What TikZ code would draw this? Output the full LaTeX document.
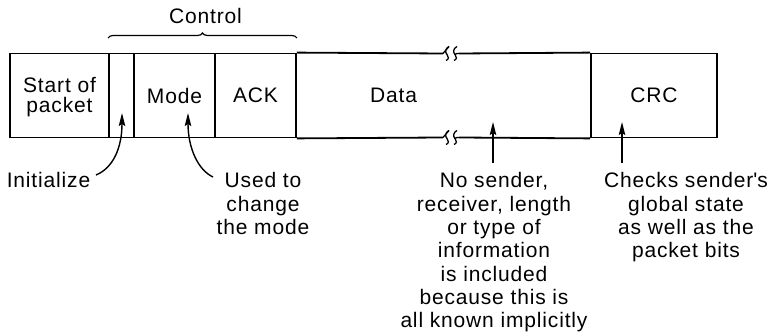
\documentclass[tikz,border=0pt]{standalone}
\usepackage{fontspec}
\setmainfont{Liberation Sans}[LetterSpace=4]
\usetikzlibrary{decorations.pathreplacing,arrows.meta}
\begin{document}
\begin{tikzpicture}[x=1pt,y=-1pt,
  txt/.style={font=\fontsize{21}{23.3}\selectfont},
  field/.style={draw, line width=1.8pt, minimum height=84pt, inner sep=0pt, align=center, txt, font=\fontsize{21}{20.5}\selectfont},
  note/.style={txt, align=center, inner sep=0pt, anchor=base},
  frame/.style={line width=1.8pt},
  arr/.style={line width=1.4pt, -{Stealth[length=13pt,width=6.5pt,inset=2pt]}},
  brk/.style={line width=1.3pt}]
\useasboundingbox (0,0) rectangle (772,336);

% fields
\node[field, minimum width=99pt] (sop) at (59.5,95.5) {};
\node[field, minimum width=25pt] (ini) at (121.5,95.5) {};
\node[field, minimum width=81pt] (mode) at (174.5,95.5) {Mode};
\node[field, minimum width=81pt] (ack) at (255.5,95.5) {ACK};
\node[minimum width=295pt, minimum height=84pt, inner sep=0pt] (data) at (443.5,95.5) {};
\node[field, minimum width=126pt] (crc) at (654,95.5) {CRC};
\node[txt, inner sep=0pt] (datalbl) at (393.5,95.5) {Data};
\node[txt, inner sep=0pt, align=center, font=\fontsize{21}{20.5}\selectfont] (soplbl) at (59.5,97) {Start of\\packet};

% data frame with break marks
\coordinate (tl) at (443,53.5);
\coordinate (tr) at (459,53.5);
\coordinate (bl) at (443,137.5);
\coordinate (br) at (459,137.5);
\draw[frame] (ack.north east) -- (tl);
\draw[frame] (tr) -- (crc.north west);
\draw[frame] (ack.south east) -- (bl);
\draw[frame] (br) -- (crc.south west);
\foreach \yy in {53.5,137.5}{
  \draw[brk] (443,\yy) .. controls (445,\yy-2) and (447,\yy-5) .. (449,\yy-7);
  \draw[brk] (449,\yy-7) .. controls (445,\yy-5) and (445,\yy-1) .. (447,\yy+1) .. controls (449,\yy+3) and (449,\yy+6) .. (446,\yy+7);
  \draw[brk] (457,\yy-7) .. controls (453,\yy-5) and (453,\yy-1) .. (455,\yy+1) .. controls (457,\yy+3) and (457,\yy+6) .. (454,\yy+7);
  \draw[brk] (455,\yy+1) .. controls (456,\yy) and (457,\yy) .. (459,\yy);
}

% control brace
\draw[line width=1.2pt, decorate, decoration={brace, amplitude=5pt}] (ini.north west |- 0,38) -- (ack.north east |- 0,38);
\node[note] (ctl) at (205.5,24) {Control};

% notes (anchor = baseline of last line)
\node[note] (initn) at (48.5,188) {Initialize};
\node[note] (moden) at (263,234.6) {Used to\\change\\the mode};
\node[note] (datan) at (494,327.8) {No sender,\\receiver, length\\or type of\\information\\is included\\because this is\\all known implicitly};
\node[note] (crcn) at (686,257.9) {Checks sender\textquotesingle s\\global state\\as well as the\\packet bits};

% arrows
\coordinate (inita) at (96,175);
\coordinate (initt) at (122,113);
\coordinate (modea) at (213,177);
\coordinate (modet) at (188,113);
\coordinate (dataa) at (493,163);
\coordinate (datat) at (493,122);
\coordinate (crca) at (622,163);
\coordinate (crct) at (622,122);
\draw[arr] (inita) .. controls (113,168) and (122,148) .. (initt);
\draw[arr] (modea) .. controls (198,170) and (188,148) .. (modet);
\draw[arr] (dataa) -- (datat);
\draw[arr] (crca) -- (crct);
\end{tikzpicture}
\end{document}
